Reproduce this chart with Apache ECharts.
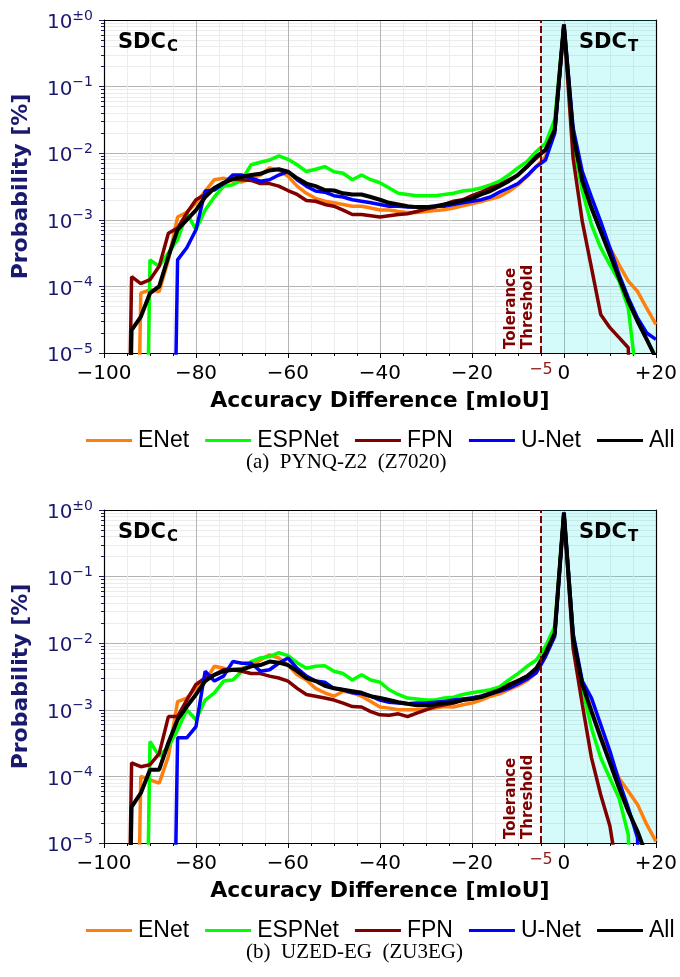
<!DOCTYPE html>
<html>
<head>
<meta charset="utf-8">
<script src="https://cdn.jsdelivr.net/npm/echarts@6/dist/echarts.min.js"></script>
<style>
  html, body { margin: 0; padding: 0; background: #fff; }
  #chart { width: 680px; height: 977px; }
</style>
</head>
<body>
<div id="chart"></div>
<script>
// accuracy difference bins [mIoU]
const bins = [-96, -94, -92, -90, -88, -86, -84, -82, -80, -78,
  -76, -74, -72, -70, -68, -66, -64, -62, -60, -58,
  -56, -54, -52, -50, -48, -46, -44, -42, -40, -38,
  -36, -34, -32, -30, -28, -26, -24, -22, -20, -18,
  -16, -14, -12, -10, -8, -6, -4, -2, 0, 2,
  4, 6, 8, 10, 12, 14, 16, 18, 20];

const threshold = -5;
const models = ['ENet', 'ESPNet', 'FPN', 'U-Net', 'All'];
const colors = ['#ff7f0e', '#00ff00', '#800000', '#0000ff', '#000000'];

// (a) PYNQ-Z2 (Z7020), probability per bin (0 = empty bin)
const enetPynq = [0, 0, 7.9e-5, 8.9e-5, 8.4e-5, 2.5e-4, 1.1e-3, 1.3e-3, 1.8e-3, 2.7e-3,
  4.0e-3, 4.2e-3, 3.8e-3, 3.7e-3, 4.2e-3, 4.7e-3, 6.0e-3, 5.6e-3, 4.5e-3, 3.2e-3,
  2.5e-3, 2.1e-3, 1.9e-3, 1.8e-3, 1.7e-3, 1.6e-3, 1.6e-3, 1.5e-3, 1.4e-3, 1.4e-3,
  1.33e-3, 1.29e-3, 1.29e-3, 1.33e-3, 1.38e-3, 1.41e-3, 1.5e-3, 1.62e-3, 1.74e-3, 1.88e-3,
  2.04e-3, 2.24e-3, 2.66e-3, 3.35e-3, 4.47e-3, 6.31e-3, 8.9e-3, 0.02, 0.85, 0.02,
  4.2e-3, 1.5e-3, 6.7e-4, 3.8e-4, 2.1e-4, 1.2e-4, 8.4e-5, 4.7e-5, 2.7e-5];
const espnetPynq = [0, 0, 0, 2.5e-4, 2.0e-4, 3.2e-4, 5.0e-4, 1.26e-3, 7.1e-4, 1.4e-3,
  2.2e-3, 3.2e-3, 3.35e-3, 4.0e-3, 6.7e-3, 7.3e-3, 7.9e-3, 9.1e-3, 8.1e-3, 6.7e-3,
  5.3e-3, 5.75e-3, 6.3e-3, 5.25e-3, 5.0e-3, 4.0e-3, 4.7e-3, 4.0e-3, 3.6e-3, 3.0e-3,
  2.5e-3, 2.4e-3, 2.3e-3, 2.3e-3, 2.3e-3, 2.4e-3, 2.5e-3, 2.7e-3, 2.8e-3, 3.0e-3,
  3.35e-3, 3.8e-3, 4.7e-3, 6.0e-3, 7.5e-3, 0.0106, 0.0141, 0.032, 0.85, 0.015,
  2.7e-3, 8.4e-4, 3.8e-4, 2.1e-4, 1.2e-4, 4.7e-5, 3.2e-6, 0, 0];
const fpnPynq = [0, 1.4e-4, 1.1e-4, 1.26e-4, 2.0e-4, 6.3e-4, 7.5e-4, 1.26e-3, 2.0e-3, 2.4e-3,
  3.0e-3, 3.5e-3, 4.1e-3, 4.0e-3, 3.9e-3, 3.5e-3, 3.5e-3, 3.2e-3, 2.75e-3, 2.4e-3,
  1.95e-3, 1.9e-3, 1.7e-3, 1.6e-3, 1.4e-3, 1.2e-3, 1.2e-3, 1.15e-3, 1.1e-3, 1.15e-3,
  1.2e-3, 1.23e-3, 1.33e-3, 1.45e-3, 1.55e-3, 1.7e-3, 1.9e-3, 2.0e-3, 2.3e-3, 2.6e-3,
  3.0e-3, 3.35e-3, 4.0e-3, 4.7e-3, 6.3e-3, 8.4e-3, 0.0112, 0.0224, 0.85, 8.4e-3,
  9.4e-4, 1.9e-4, 3.8e-5, 2.4e-5, 1.7e-5, 1.2e-5, 0, 0, 0];
const unetPynq = [0, 0, 0, 0, 0, 0, 2.5e-4, 3.8e-4, 7.1e-4, 2.7e-3,
  2.8e-3, 3.5e-3, 4.7e-3, 4.7e-3, 4.2e-3, 3.8e-3, 4.0e-3, 4.7e-3, 5.3e-3, 4.0e-3,
  3.2e-3, 2.7e-3, 2.6e-3, 2.3e-3, 2.2e-3, 2.0e-3, 1.9e-3, 1.8e-3, 1.7e-3, 1.6e-3,
  1.6e-3, 1.55e-3, 1.55e-3, 1.55e-3, 1.6e-3, 1.6e-3, 1.7e-3, 1.8e-3, 1.9e-3, 2.0e-3,
  2.2e-3, 2.6e-3, 3.0e-3, 3.5e-3, 4.6e-3, 6.3e-3, 7.9e-3, 0.02, 0.85, 0.024,
  5.3e-3, 2.2e-3, 9.4e-4, 3.8e-4, 1.5e-4, 6.7e-5, 3.35e-5, 2.0e-5, 1.6e-5];
const allPynq = [0, 2.2e-5, 3.5e-5, 7.9e-5, 1.0e-4, 2.8e-4, 7.1e-4, 1.0e-3, 1.4e-3, 2.2e-3,
  3.0e-3, 3.6e-3, 4.1e-3, 4.4e-3, 4.7e-3, 4.9e-3, 5.5e-3, 5.75e-3, 5.3e-3, 4.2e-3,
  3.5e-3, 3.2e-3, 2.8e-3, 2.75e-3, 2.5e-3, 2.4e-3, 2.4e-3, 2.2e-3, 2.0e-3, 1.8e-3,
  1.7e-3, 1.6e-3, 1.55e-3, 1.55e-3, 1.6e-3, 1.7e-3, 1.8e-3, 1.95e-3, 2.1e-3, 2.4e-3,
  2.7e-3, 3.2e-3, 3.8e-3, 4.7e-3, 6.3e-3, 8.9e-3, 0.0112, 0.0224, 0.85, 0.019,
  3.8e-3, 1.5e-3, 6.7e-4, 3.0e-4, 1.33e-4, 6.0e-5, 3.0e-5, 1.6e-5, 8.4e-6];

// (b) UZED-EG (ZU3EG)
const enetUzed = [0, 0, 1.0e-4, 8.9e-5, 7.9e-5, 2.0e-4, 1.33e-3, 1.5e-3, 2.1e-3, 2.7e-3,
  4.5e-3, 4.2e-3, 4.0e-3, 4.2e-3, 4.5e-3, 5.6e-3, 6.7e-3, 6.0e-3, 4.7e-3, 3.35e-3,
  2.8e-3, 2.1e-3, 1.8e-3, 1.6e-3, 1.9e-3, 1.8e-3, 1.6e-3, 1.33e-3, 1.1e-3, 1.06e-3,
  1.0e-3, 1.0e-3, 1.0e-3, 1.02e-3, 1.06e-3, 1.12e-3, 1.1e-3, 1.19e-3, 1.26e-3, 1.4e-3,
  1.6e-3, 1.74e-3, 2.0e-3, 2.3e-3, 2.75e-3, 3.6e-3, 6.3e-3, 0.014, 0.91, 0.0126,
  2.5e-3, 1.0e-3, 4.0e-4, 1.9e-4, 9.4e-5, 6.0e-5, 3.8e-5, 1.9e-5, 1.06e-5];
const espnetUzed = [0, 0, 0, 3.35e-4, 2.0e-4, 2.8e-4, 5.0e-4, 1.0e-3, 7.1e-4, 1.4e-3,
  1.8e-3, 2.7e-3, 2.8e-3, 3.8e-3, 5.3e-3, 6.0e-3, 6.3e-3, 7.2e-3, 6.5e-3, 5.1e-3,
  4.2e-3, 4.5e-3, 4.6e-3, 3.8e-3, 3.5e-3, 2.8e-3, 3.35e-3, 2.8e-3, 2.6e-3, 2.0e-3,
  1.7e-3, 1.5e-3, 1.45e-3, 1.4e-3, 1.4e-3, 1.5e-3, 1.55e-3, 1.7e-3, 1.8e-3, 1.9e-3,
  2.0e-3, 2.2e-3, 2.8e-3, 3.5e-3, 4.5e-3, 5.6e-3, 8.9e-3, 0.0178, 0.91, 0.014,
  2.1e-3, 5.3e-4, 1.9e-4, 9.4e-5, 4.7e-5, 1.33e-5, 0, 0, 0];
const fpnUzed = [0, 1.6e-4, 1.4e-4, 1.5e-4, 2.2e-4, 7.9e-4, 7.9e-4, 1.4e-3, 2.4e-3, 3.0e-3,
  3.35e-3, 4.0e-3, 4.0e-3, 3.8e-3, 3.5e-3, 3.5e-3, 3.2e-3, 3.0e-3, 2.7e-3, 2.1e-3,
  1.7e-3, 1.6e-3, 1.5e-3, 1.4e-3, 1.26e-3, 1.12e-3, 1.1e-3, 9.4e-4, 8.4e-4, 8.3e-4,
  8.7e-4, 7.9e-4, 8.9e-4, 1.0e-3, 1.12e-3, 1.19e-3, 1.26e-3, 1.4e-3, 1.5e-3, 1.6e-3,
  1.8e-3, 2.0e-3, 2.4e-3, 2.75e-3, 3.2e-3, 4.0e-3, 7.1e-3, 0.014, 0.91, 8.4e-3,
  1.2e-3, 1.9e-4, 5.3e-5, 1.8e-5, 2.5e-6, 0, 0, 0, 0];
const unetUzed = [0, 0, 0, 0, 0, 0, 3.8e-4, 3.8e-4, 5.6e-4, 3.8e-3,
  2.7e-3, 3.2e-3, 5.3e-3, 5.0e-3, 5.0e-3, 3.8e-3, 4.0e-3, 5.0e-3, 6.0e-3, 4.2e-3,
  3.2e-3, 2.7e-3, 2.6e-3, 2.1e-3, 2.0e-3, 1.8e-3, 1.74e-3, 1.6e-3, 1.4e-3, 1.3e-3,
  1.26e-3, 1.23e-3, 1.26e-3, 1.26e-3, 1.3e-3, 1.33e-3, 1.4e-3, 1.45e-3, 1.5e-3, 1.6e-3,
  1.74e-3, 1.9e-3, 2.1e-3, 2.45e-3, 2.9e-3, 3.6e-3, 6.3e-3, 0.0126, 0.91, 0.014,
  2.7e-3, 1.5e-3, 6.0e-4, 2.4e-4, 8.4e-5, 3.35e-5, 1.2e-5, 0, 0];
const allUzed = [0, 3.5e-5, 5.6e-5, 1.26e-4, 1.26e-4, 3.2e-4, 7.1e-4, 1.12e-3, 1.7e-3, 2.7e-3,
  3.35e-3, 3.8e-3, 4.0e-3, 4.0e-3, 4.5e-3, 4.7e-3, 5.3e-3, 5.1e-3, 4.7e-3, 3.8e-3,
  3.0e-3, 2.7e-3, 2.3e-3, 2.1e-3, 2.0e-3, 1.9e-3, 1.8e-3, 1.6e-3, 1.5e-3, 1.4e-3,
  1.3e-3, 1.23e-3, 1.17e-3, 1.17e-3, 1.2e-3, 1.26e-3, 1.3e-3, 1.4e-3, 1.45e-3, 1.55e-3,
  1.74e-3, 1.95e-3, 2.3e-3, 2.7e-3, 3.2e-3, 4.2e-3, 7.1e-3, 0.014, 0.91, 0.012,
  2.4e-3, 9.4e-4, 3.8e-4, 1.6e-4, 6.7e-5, 3.0e-5, 1.5e-5, 6.3e-6, 0];

const panels = [
  [enetPynq, espnetPynq, fpnPynq, unetPynq, allPynq],
  [enetUzed, espnetUzed, fpnUzed, unetUzed, allUzed]
];

const navy = '#191970';
const font = 'DejaVu Sans';
const gridTops = [20, 510];
const plotH = 333;

// empty bins go below the axis, like matplotlib clipping on a log scale
const clipZero = v => (v > 0 ? v : 1e-12);

const supText = v => {
  const e = Math.round(Math.log10(v));
  return '{b|10}{s|' + (e === 0 ? '±0' : '−' + (-e)) + '}';
};
const xText = v => (v === 0 ? '0' : v > 0 ? '+' + v : '−' + (-v));

const chart = echarts.init(document.getElementById('chart'), null, { renderer: 'canvas' });

const grid = gridTops.map(t => ({ left: 104, top: t, width: 552, height: plotH }));

const xAxis = [];
const yAxis = [];
gridTops.forEach((t, g) => {
  xAxis[g] = {
    type: 'value', gridIndex: g, min: -100, max: 20, interval: 20,
    axisLine: { onZero: false, lineStyle: { color: '#000', width: 1.2 } },
    axisTick: { length: 5, lineStyle: { color: '#000' } },
    minorTick: { show: true, splitNumber: 4, length: 3, lineStyle: { color: '#000' } },
    axisLabel: { fontSize: 20, fontFamily: font, color: '#000', margin: 11, formatter: xText,
      showMinLabel: true, showMaxLabel: true },
    splitLine: { show: true, lineStyle: { color: '#b4b4b4', width: 1 } },
    minorSplitLine: { show: true, lineStyle: { color: '#ececec', width: 1 } },
    name: 'Accuracy Difference [mIoU]', nameLocation: 'middle', nameGap: 37,
    nameTextStyle: { fontSize: 22, fontWeight: 'bold', color: '#000', fontFamily: font }
  };
  xAxis[g + 2] = {
    type: 'value', gridIndex: g, position: 'top', min: -100, max: 20,
    axisLine: { onZero: false, lineStyle: { color: '#000', width: 1.2 } },
    axisTick: { show: false }, axisLabel: { show: false }, splitLine: { show: false }
  };
  yAxis[g] = {
    type: 'log', logBase: 10, gridIndex: g, min: 1e-5, max: 1,
    axisLine: { show: true, onZero: false, lineStyle: { color: '#000', width: 1.2 } },
    axisTick: { show: true, length: 5, lineStyle: { color: navy } },
    minorTick: { show: true, splitNumber: 9, length: 3, lineStyle: { color: navy } },
    axisLabel: {
      margin: 11, formatter: supText, padding: [6, 0, 0, 0],
      rich: {
        b: { fontSize: 20, fontFamily: font, color: navy, lineHeight: 28 },
        s: { fontSize: 14, fontFamily: font, color: navy, lineHeight: 16, verticalAlign: 'top' }
      }
    },
    splitLine: { show: true, lineStyle: { color: '#b4b4b4', width: 1 } },
    minorSplitLine: { show: true, lineStyle: { color: '#ececec', width: 1 } },
    name: 'Probability [%]', nameLocation: 'middle', nameGap: 72, nameRotate: 90,
    nameTextStyle: { fontSize: 22, fontWeight: 'bold', color: navy, fontFamily: font }
  };
  yAxis[g + 2] = {
    type: 'log', logBase: 10, gridIndex: g, position: 'right', min: 1e-5, max: 1,
    axisLine: { show: true, onZero: false, lineStyle: { color: '#000', width: 1.2 } },
    axisTick: { show: false }, axisLabel: { show: false }, splitLine: { show: false }
  };
});

const series = [];
panels.forEach((runs, g) => {
  // SDC_T zone and tolerance threshold
  series.push({
    type: 'line', xAxisIndex: g, yAxisIndex: g, data: [], silent: true,
    markArea: {
      silent: true,
      itemStyle: { color: 'rgba(0, 225, 225, 0.17)' },
      data: [[{ xAxis: threshold }, { xAxis: 20 }]]
    },
    markLine: {
      silent: true, symbol: 'none',
      data: [
        {
          xAxis: threshold,
          lineStyle: { color: '#800000', type: [7, 3], width: 2 },
          label: { show: true, position: 'insideStartTop', formatter: 'Tolerance\nThreshold',
            color: '#800000', fontWeight: 'bold', fontSize: 15, lineHeight: 17, fontFamily: font, distance: 4 }
        },
        {
          xAxis: threshold,
          lineStyle: { color: 'rgba(0,0,0,0)', width: 0 },
          label: { show: true, position: 'start', formatter: '−5', color: '#8b1a1a',
            fontSize: 16, fontFamily: font, distance: 9 }
        }
      ]
    }
  });
  runs.forEach((vals, m) => {
    series.push({
      name: models[m], type: 'line', xAxisIndex: g, yAxisIndex: g,
      data: bins.map((b, i) => [b, clipZero(vals[i])]),
      symbol: 'none', color: colors[m],
      lineStyle: { color: colors[m], width: m === 4 ? 4 : 3.5 },
      clip: true, silent: true
    });
  });
});

const legendBase = {
  data: models, left: 81, width: 640, icon: 'rect', itemWidth: 46, itemHeight: 3, itemGap: 16,
  textStyle: { fontSize: 23, color: '#000', fontFamily: "'Liberation Sans', Arial, sans-serif",
    padding: [0, 0, 0, 1] }
};

// SDC_C / SDC_T panel tags with subscript
const tag = (left, top, text, size) => ({
  text: text, left: left, top: top, padding: 0,
  textStyle: { fontSize: size, fontWeight: 'bold', fontFamily: font, color: '#000' }
});
const sdc = (x, y, sub) => [tag(x, y, 'SDC', 21), tag(x + 49, y + 8, sub, 15)];
const caption = (top, text) => ({
  text: text, left: 246, top: top, padding: 0,
  textStyle: { fontSize: 21, fontWeight: 'normal', color: '#000',
    fontFamily: "'Liberation Serif', 'DejaVu Serif', serif" }
});

chart.setOption({
  animation: false,
  backgroundColor: '#fff',
  title: [].concat(
    sdc(118, 32, 'C'), sdc(579, 32, 'T'),
    sdc(118, 522, 'C'), sdc(579, 522, 'T'),
    [caption(452, '(a)  PYNQ-Z2  (Z7020)'), caption(942, '(b)  UZED-EG  (ZU3EG)')]
  ),
  grid: grid,
  xAxis: xAxis,
  yAxis: yAxis,
  legend: [
    Object.assign({ top: 424 }, legendBase),
    Object.assign({ top: 914 }, legendBase)
  ],
  series: series
});
</script>
</body>
</html>
